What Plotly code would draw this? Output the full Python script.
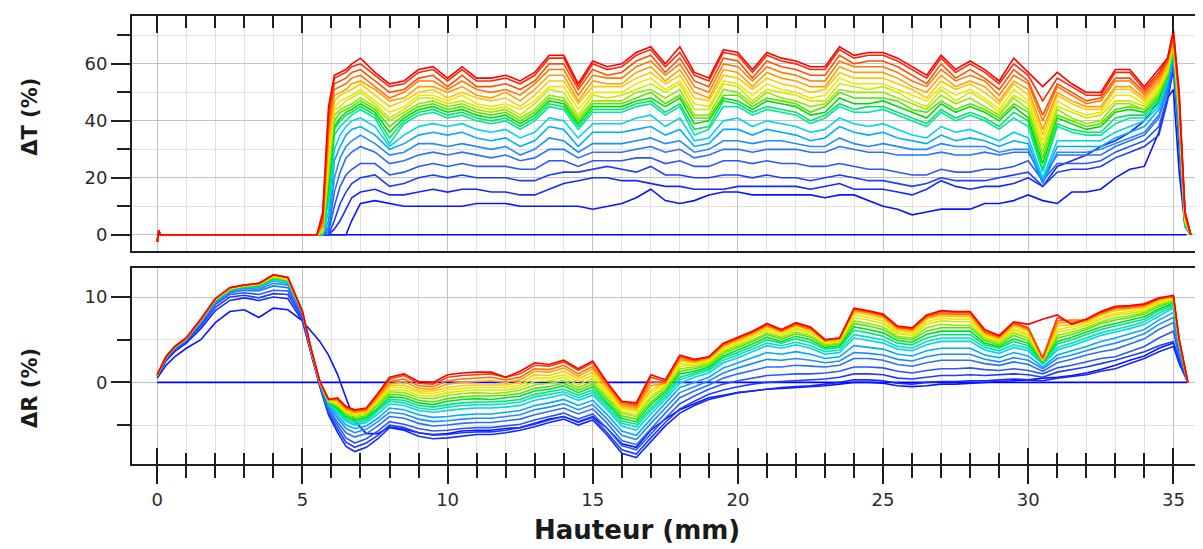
import plotly.graph_objects as go

# ---- Delta T (transmission) panel ----------------------------------------
# common start of every scan (small blip at the tube bottom, then flat)
t_x_start = [0.0, 0.05, 0.1, 5.5]
t_y_start = [-2.5, 1.5, 0.0, 0.0]

t_x = [5.7, 5.9, 6.1, 6.3, 6.5, 6.7, 7.0,
       7.5, 8.0, 8.5, 9.0, 9.5, 10.0, 10.5, 11.0, 11.5, 12.0,
       12.5, 13.0, 13.5, 14.0, 14.5, 15.0, 15.5, 16.0, 16.5, 17.0,
       17.5, 18.0, 18.5, 19.0, 19.5, 20.0, 20.5, 21.0, 21.5, 22.0,
       22.5, 23.0, 23.5, 24.0, 24.5, 25.0, 25.5, 26.0, 26.5, 27.0,
       27.5, 28.0, 28.5, 29.0, 29.5, 30.0, 30.5, 31.0, 31.5, 32.0,
       32.5, 33.0, 33.5, 34.0, 34.5, 34.8, 35.0, 35.2, 35.4, 35.6]

dT_01 = [0, 0, 0, 0, 0, 5, 11,
         12, 11, 10, 10, 10, 10, 10, 11, 11, 11,
         10, 10, 10, 10, 10, 9, 10, 11, 13, 16,
         12, 11, 12, 14, 15, 15, 14, 14, 14, 14,
         14, 13, 14, 14, 12, 10, 9, 7, 8, 9,
         9, 9, 11, 11, 12, 14, 12, 11, 15, 15,
         16, 20, 23, 24, 36, 48, 51, 22, 3, 0]
dT_02 = [0, 0, 2, 5, 9, 13, 15,
         16, 14, 14, 15, 16, 15, 16, 16, 15, 15,
         14, 14, 16, 18, 19, 20, 20, 19, 19, 18,
         17, 17, 16, 16, 16, 17, 17, 17, 17, 17,
         16, 17, 18, 16, 16, 16, 15, 14, 16, 19,
         17, 16, 17, 17, 18, 20, 17, 24, 26, 28,
         31, 33, 36, 40, 47, 57, 63, 30, 4, 0]
dT_03 = [0, 0, 5, 11, 15, 18, 20,
         21, 17, 18, 20, 21, 20, 21, 20, 20, 20,
         19, 19, 21, 22, 22, 23, 24, 23, 22, 24,
         21, 21, 20, 20, 21, 21, 20, 21, 20, 20,
         19, 20, 21, 20, 19, 19, 18, 17, 18, 20,
         19, 19, 19, 20, 21, 22, 17, 22, 23, 23,
         24, 27, 29, 31, 35, 47, 58, 33, 3, 0]
dT_04 = [0, 1, 10, 17, 21, 23, 25,
         25, 21, 22, 24, 25, 24, 25, 24, 24, 24,
         23, 23, 26, 26, 24, 26, 26, 26, 27, 27,
         25, 26, 24, 24, 26, 26, 25, 26, 25, 25,
         24, 24, 25, 24, 23, 23, 22, 21, 21, 23,
         22, 22, 23, 23, 24, 26, 19, 25, 25, 25,
         26, 29, 31, 33, 38, 49, 60, 34, 3, 0]
dT_05 = [0, 2, 15, 22, 27, 29, 31,
         29, 25, 26, 28, 29, 28, 29, 28, 27, 28,
         26, 27, 30, 30, 27, 29, 29, 29, 30, 31,
         29, 30, 27, 28, 30, 30, 29, 30, 30, 30,
         29, 29, 31, 30, 29, 29, 28, 28, 28, 29,
         28, 28, 29, 28, 29, 29, 20, 28, 28, 28,
         28, 31, 33, 35, 41, 51, 62, 35, 3, 0]
dT_06 = [0, 3, 20, 27, 31, 33, 35,
         32, 28, 29, 32, 32, 31, 32, 31, 30, 31,
         28, 30, 34, 33, 29, 32, 32, 32, 33, 34,
         32, 33, 29, 30, 33, 33, 32, 33, 33, 32,
         31, 31, 34, 32, 31, 32, 31, 30, 30, 32,
         31, 31, 31, 29, 30, 30, 18, 29, 29, 29,
         30, 32, 34, 36, 42, 52, 62, 36, 3, 0]
dT_07 = [0, 5, 26, 31, 35, 37, 38,
         35, 30, 32, 35, 36, 35, 36, 34, 33, 34,
         31, 33, 38, 37, 31, 36, 36, 36, 37, 38,
         35, 37, 31, 32, 37, 37, 35, 37, 36, 35,
         33, 34, 38, 36, 35, 36, 34, 33, 32, 35,
         33, 34, 33, 31, 33, 32, 19, 31, 31, 31,
         31, 34, 36, 38, 44, 53, 63, 37, 3, 0]
dT_08 = [0, 8, 30, 35, 38, 40, 41,
         38, 31, 35, 38, 39, 38, 39, 37, 36, 37,
         34, 36, 41, 40, 34, 39, 39, 39, 41, 42,
         38, 41, 33, 34, 40, 41, 38, 40, 39, 38,
         36, 37, 41, 39, 38, 39, 37, 35, 34, 38,
         36, 37, 35, 33, 36, 34, 20, 33, 33, 33,
         33, 36, 38, 40, 45, 54, 64, 38, 3, 0]
dT_09 = [0, 12, 35, 38, 40, 42, 44,
         41, 32, 39, 42, 43, 41, 42, 40, 39, 40,
         37, 40, 45, 44, 37, 43, 43, 43, 45, 46,
         42, 45, 35, 37, 45, 45, 42, 44, 43, 42,
         39, 41, 45, 43, 43, 44, 42, 40, 38, 43,
         40, 42, 40, 37, 41, 38, 22, 38, 36, 35,
         35, 39, 41, 41, 46, 55, 65, 40, 4, 0]
dT_10 = [0, 14, 37, 40, 42, 43, 45,
         42, 34, 40, 43, 44, 42, 43, 41, 40, 41,
         38, 41, 46, 45, 38, 44, 44, 44, 46, 47,
         43, 46, 37, 38, 47, 46, 43, 45, 44, 43,
         40, 42, 46, 44, 45, 45, 43, 41, 39, 44,
         41, 43, 41, 38, 43, 40, 23, 39, 37, 36,
         36, 41, 42, 42, 47, 55, 65, 40, 4, 0]
dT_11 = [1, 17, 38, 41, 43, 44, 46,
         43, 36, 41, 44, 45, 43, 44, 42, 41, 42,
         39, 42, 47, 46, 39, 45, 45, 45, 47, 48,
         45, 48, 39, 40, 48, 47, 44, 47, 46, 45,
         42, 43, 48, 46, 46, 47, 45, 43, 41, 46,
         43, 45, 43, 40, 45, 41, 25, 41, 39, 37,
         38, 43, 44, 43, 48, 56, 66, 41, 4, 0]
dT_12 = [1, 20, 40, 43, 44, 45, 47,
         44, 38, 42, 45, 46, 44, 45, 43, 42, 43,
         40, 43, 48, 47, 40, 46, 46, 46, 48, 50,
         46, 49, 41, 41, 49, 49, 45, 48, 47, 46,
         43, 45, 50, 48, 48, 48, 47, 44, 43, 47,
         44, 46, 44, 41, 46, 43, 27, 42, 40, 38,
         39, 44, 45, 44, 49, 56, 66, 41, 4, 0]
dT_13 = [1, 22, 42, 44, 45, 46, 48,
         45, 40, 43, 46, 47, 45, 46, 44, 43, 44,
         41, 44, 49, 48, 41, 47, 47, 47, 50, 51,
         48, 51, 42, 42, 51, 50, 46, 50, 48, 47,
         45, 46, 51, 50, 50, 50, 48, 46, 44, 49,
         46, 48, 45, 42, 48, 44, 29, 44, 41, 39,
         40, 46, 46, 44, 50, 57, 67, 42, 5, 0]
dT_14 = [1, 25, 44, 45, 47, 48, 50,
         46, 41, 44, 48, 48, 46, 47, 45, 44, 45,
         42, 46, 51, 50, 42, 49, 48, 49, 51, 53,
         50, 53, 44, 44, 53, 52, 47, 51, 50, 49,
         47, 47, 53, 52, 51, 52, 50, 47, 45, 51,
         47, 50, 47, 43, 49, 46, 31, 45, 43, 41,
         42, 47, 47, 45, 51, 57, 67, 43, 5, 0]
dT_15 = [2, 28, 45, 47, 48, 49, 51,
         47, 43, 45, 49, 49, 47, 49, 46, 45, 46,
         44, 47, 52, 52, 44, 50, 50, 50, 53, 55,
         51, 54, 46, 45, 54, 53, 49, 53, 51, 50,
         48, 49, 55, 53, 53, 53, 51, 49, 47, 52,
         49, 51, 48, 44, 51, 47, 33, 47, 44, 42,
         43, 49, 49, 46, 52, 58, 68, 44, 5, 0]
dT_16 = [2, 31, 47, 49, 50, 51, 53,
         49, 45, 47, 50, 51, 48, 50, 48, 47, 48,
         45, 49, 54, 54, 46, 52, 52, 52, 55, 57,
         53, 56, 48, 47, 56, 55, 51, 55, 53, 52,
         50, 51, 57, 55, 55, 55, 53, 51, 48, 54,
         51, 53, 50, 46, 53, 49, 35, 49, 46, 44,
         44, 51, 51, 47, 53, 59, 68, 45, 6, 0]
dT_17 = [3, 34, 49, 50, 51, 53, 54,
         51, 47, 48, 52, 52, 50, 52, 49, 48, 50,
         47, 51, 56, 56, 47, 54, 53, 53, 57, 59,
         54, 58, 50, 48, 58, 57, 52, 57, 55, 54,
         52, 52, 59, 57, 57, 57, 55, 52, 50, 56,
         52, 54, 52, 47, 54, 51, 37, 50, 47, 45,
         45, 52, 52, 48, 54, 60, 69, 46, 6, 0]
dT_18 = [4, 37, 51, 52, 53, 55, 56,
         52, 48, 50, 54, 54, 51, 54, 51, 50, 51,
         49, 53, 58, 58, 49, 56, 55, 55, 59, 61,
         56, 60, 52, 50, 60, 59, 54, 59, 57, 56,
         54, 54, 61, 59, 59, 59, 57, 54, 52, 58,
         54, 56, 54, 49, 56, 53, 40, 52, 49, 46,
         47, 54, 54, 49, 55, 61, 70, 47, 7, 0]
dT_19 = [5, 40, 53, 54, 55, 57, 58,
         54, 50, 51, 55, 56, 52, 56, 52, 52, 53,
         51, 54, 60, 60, 51, 58, 56, 57, 61, 63,
         57, 62, 54, 52, 62, 61, 55, 61, 59, 58,
         56, 56, 63, 60, 61, 61, 59, 56, 53, 60,
         55, 58, 55, 51, 58, 54, 42, 53, 50, 47,
         48, 55, 55, 50, 56, 61, 70, 48, 7, 0]
dT_20 = [6, 43, 55, 56, 57, 59, 60,
         56, 52, 53, 57, 58, 54, 58, 54, 54, 55,
         53, 56, 62, 62, 52, 60, 58, 59, 63, 65,
         59, 64, 56, 54, 64, 63, 57, 63, 61, 60,
         58, 58, 65, 62, 63, 63, 61, 58, 55, 62,
         57, 60, 57, 53, 60, 56, 47, 55, 52, 49,
         49, 57, 57, 51, 57, 62, 71, 49, 8, 0]
dT_21 = [8, 45, 56, 57, 58, 60, 62,
         57, 53, 54, 58, 59, 55, 59, 55, 55, 56,
         54, 57, 63, 63, 53, 61, 59, 60, 64, 66,
         60, 66, 57, 55, 65, 64, 58, 64, 62, 61,
         59, 59, 66, 63, 64, 64, 62, 59, 56, 63,
         58, 61, 58, 54, 62, 57, 52, 57, 53, 50,
         50, 58, 58, 52, 58, 62, 72, 50, 8, 0]

# reference scan (t = 0) : flat zero line
t_ref_x = [0.0, 35.45]
t_ref_y = [0, 0]

# ---- Delta R (backscattering) panel --------------------------------------
r_x = [0.0, 0.3, 0.6, 1.0, 1.5, 2.0, 2.5, 3.0, 3.5, 4.0, 4.5, 5.0,
       5.3, 5.6, 5.9, 6.2, 6.5, 6.8, 7.2, 7.6,
       8.0, 8.5, 9.0, 9.5, 10.0, 10.5, 11.0, 11.5, 12.0, 12.5,
       13.0, 13.5, 14.0, 14.5, 15.0, 15.5, 16.0, 16.5, 17.0, 17.5,
       18.0, 18.5, 19.0, 19.5, 20.0, 20.5, 21.0, 21.5, 22.0, 22.5,
       23.0, 23.5, 24.0, 24.5, 25.0, 25.5, 26.0, 26.5, 27.0, 27.5,
       28.0, 28.5, 29.0, 29.5, 30.0, 30.5, 31.0, 31.5, 32.0, 32.5,
       33.0, 33.5, 34.0, 34.5, 35.0, 35.2, 35.5]

dR_01 = [0.5, 2.0, 3.0, 4.0, 5.0, 7.0, 8.3, 8.5, 7.6, 8.7, 8.5, 7.2,
         6.0, 4.8, 3.2, 1.0, -1.8, -4.5, -6.0, -6.0,
         -5.2, -5.5, -5.9, -6.1, -6.0, -5.7, -5.6, -5.6, -5.4, -5.3,
         -4.8, -4.3, -4.0, -4.6, -4.0, -5.4, -7.2, -7.6, -5.6, -4.3,
         -3.2, -2.5, -1.8, -1.5, -1.2, -1.0, -0.8, -0.7, -0.6, -0.5,
         -0.4, -0.2, 0.0, 0.0, -0.1, -0.4, -0.5, -0.4, -0.2, -0.2,
         -0.1, 0.0, 0.1, 0.2, 0.3, 0.5, 0.6, 0.8, 1.1, 1.5,
         2.0, 2.6, 3.1, 4.0, 4.6, 2.5, 0.0]
dR_02 = [0.7, 2.5, 3.6, 4.6, 6.3, 8.4, 9.6, 9.9, 9.6, 10.0, 9.8, 7.2,
         3.3, -0.5, -3.8, -5.8, -7.5, -8.1, -7.6, -6.6,
         -5.3, -5.6, -6.3, -6.6, -6.5, -6.3, -6.1, -6.1, -5.9, -5.6,
         -5.2, -4.7, -4.3, -5.0, -4.4, -6.2, -8.3, -8.8, -6.9, -5.1,
         -3.6, -2.7, -2.0, -1.6, -1.2, -1.0, -0.8, -0.6, -0.5, -0.4,
         -0.2, 0.0, 0.3, 0.3, 0.2, -0.1, -0.2, 0.0, 0.1, 0.1,
         0.2, 0.2, 0.3, 0.4, 0.3, 0.2, 0.5, 0.7, 0.9, 1.3,
         1.6, 2.2, 2.8, 3.6, 4.2, 2.2, 0.0]
dR_03 = [0.8, 2.7, 3.8, 4.8, 6.6, 8.8, 10.0, 10.2, 9.9, 10.4, 10.3, 7.5,
         3.4, -0.4, -3.6, -5.4, -7.0, -7.6, -7.1, -6.2,
         -5.0, -5.3, -5.9, -6.2, -6.1, -5.9, -5.8, -5.8, -5.6, -5.3,
         -4.9, -4.4, -4.0, -4.7, -4.1, -5.9, -7.9, -8.4, -6.5, -4.7,
         -3.1, -2.2, -1.4, -0.9, -0.5, -0.2, 0.0, 0.1, 0.2, 0.3,
         0.4, 0.6, 1.0, 1.0, 0.9, 0.5, 0.4, 0.6, 0.8, 0.8,
         0.9, 0.8, 0.9, 1.0, 0.9, 0.6, 1.2, 1.5, 1.8, 2.2,
         2.6, 3.1, 3.6, 4.3, 4.8, 2.6, 0.0]
dR_04 = [0.8, 2.8, 3.9, 4.9, 6.8, 9.1, 10.3, 10.5, 10.3, 10.8, 10.7, 7.8,
         3.5, -0.3, -3.4, -5.0, -6.5, -7.1, -6.6, -5.7,
         -4.6, -4.9, -5.4, -5.7, -5.6, -5.4, -5.3, -5.3, -5.1, -4.9,
         -4.4, -4.0, -3.6, -4.3, -3.7, -5.4, -7.4, -7.9, -6.0, -4.2,
         -2.5, -1.6, -0.8, -0.2, 0.2, 0.5, 0.8, 0.9, 1.0, 1.0,
         1.1, 1.3, 1.8, 1.8, 1.7, 1.3, 1.1, 1.4, 1.6, 1.6,
         1.7, 1.5, 1.4, 1.6, 1.4, 1.0, 1.7, 2.0, 2.4, 2.8,
         3.0, 3.6, 4.2, 5.2, 6.0, 3.0, 0.0]
dR_05 = [0.8, 2.8, 4.0, 5.0, 7.0, 9.3, 10.5, 10.8, 10.7, 11.3, 11.1, 8.0,
         3.6, -0.2, -3.1, -4.6, -5.9, -6.4, -6.0, -5.1,
         -4.0, -4.2, -4.8, -5.1, -5.0, -4.8, -4.7, -4.7, -4.5, -4.3,
         -3.8, -3.4, -3.0, -3.7, -3.1, -4.8, -6.8, -7.3, -5.4, -3.6,
         -1.8, -1.0, -0.3, 0.5, 1.0, 1.4, 1.8, 1.8, 2.0, 1.9,
         1.8, 2.0, 2.8, 2.8, 2.6, 2.1, 1.9, 2.3, 2.6, 2.6,
         2.6, 2.2, 2.0, 2.4, 2.1, 1.3, 2.3, 2.7, 3.2, 3.6,
         3.9, 4.5, 5.1, 6.2, 7.0, 3.4, 0.0]
dR_06 = [0.8, 2.9, 4.0, 5.0, 7.1, 9.4, 10.6, 11.0, 10.9, 11.6, 11.4, 8.1,
         3.7, -0.1, -2.9, -4.2, -5.4, -5.9, -5.5, -4.6,
         -3.5, -3.7, -4.3, -4.6, -4.5, -4.3, -4.2, -4.2, -4.0, -3.8,
         -3.2, -2.9, -2.5, -3.2, -2.6, -4.3, -6.2, -6.7, -4.8, -3.0,
         -1.2, -0.5, 0.2, 1.1, 1.7, 2.2, 2.7, 2.6, 2.8, 2.6,
         2.3, 2.5, 3.5, 3.4, 3.2, 2.7, 2.5, 3.0, 3.3, 3.3,
         3.3, 2.7, 2.4, 2.9, 2.6, 1.6, 2.8, 3.2, 3.7, 4.2,
         4.6, 5.1, 5.7, 6.8, 7.6, 3.8, 0.0]
dR_07 = [0.8, 2.9, 4.1, 5.1, 7.2, 9.5, 10.7, 11.1, 11.1, 11.9, 11.6, 8.2,
         3.8, 0.0, -2.7, -3.8, -5.0, -5.4, -5.1, -4.2,
         -3.0, -3.2, -3.8, -4.1, -4.0, -3.8, -3.7, -3.7, -3.5, -3.3,
         -2.7, -2.4, -2.0, -2.7, -2.1, -3.8, -5.7, -6.2, -4.3, -2.5,
         -0.6, 0.0, 0.6, 1.7, 2.3, 2.9, 3.5, 3.3, 3.6, 3.3,
         2.8, 3.0, 4.3, 4.1, 3.9, 3.3, 3.1, 3.7, 4.0, 4.0,
         4.0, 3.2, 2.9, 3.5, 3.1, 1.8, 3.2, 3.7, 4.2, 4.8,
         5.2, 5.7, 6.2, 7.3, 8.2, 4.1, 0.0]
dR_08 = [0.8, 2.9, 4.1, 5.1, 7.2, 9.6, 10.8, 11.2, 11.2, 12.1, 11.8, 8.3,
         3.8, 0.0, -2.5, -3.5, -4.6, -5.0, -4.7, -3.7,
         -2.5, -2.7, -3.3, -3.5, -3.3, -3.1, -3.0, -3.0, -2.9, -2.7,
         -2.1, -1.8, -1.4, -2.1, -1.5, -3.2, -5.1, -5.6, -3.7, -2.0,
         -0.1, 0.6, 1.1, 2.3, 2.9, 3.6, 4.3, 4.0, 4.4, 4.0,
         3.3, 3.5, 5.2, 4.9, 4.6, 3.9, 3.7, 4.4, 4.8, 4.8,
         4.8, 3.8, 3.4, 4.1, 3.7, 2.1, 3.8, 4.3, 4.9, 5.5,
         5.9, 6.3, 6.8, 7.8, 8.7, 4.3, 0.0]
dR_09 = [0.8, 2.9, 4.1, 5.1, 7.2, 9.6, 10.8, 11.2, 11.3, 12.1, 11.8, 8.3,
         3.8, 0.0, -2.4, -3.3, -4.4, -4.8, -4.5, -3.4,
         -2.2, -2.4, -3.0, -3.2, -2.9, -2.7, -2.6, -2.6, -2.5, -2.3,
         -1.7, -1.4, -1.1, -1.8, -1.2, -2.9, -4.8, -5.2, -3.3, -1.7,
         0.3, 0.9, 1.4, 2.6, 3.2, 3.9, 4.6, 4.3, 4.7, 4.3,
         3.6, 3.8, 5.6, 5.3, 5.0, 4.2, 4.0, 4.8, 5.2, 5.2,
         5.2, 4.1, 3.7, 4.4, 4.0, 2.2, 4.1, 4.6, 5.2, 5.8,
         6.2, 6.6, 7.1, 8.1, 8.9, 4.4, 0.0]
dR_10 = [0.8, 2.9, 4.1, 5.1, 7.3, 9.6, 10.9, 11.2, 11.3, 12.2, 11.9, 8.3,
         3.8, 0.0, -2.4, -3.1, -4.2, -4.6, -4.3, -3.2,
         -2.0, -2.1, -2.7, -2.9, -2.6, -2.4, -2.3, -2.3, -2.2, -2.0,
         -1.4, -1.1, -0.8, -1.5, -0.9, -2.6, -4.5, -4.9, -3.0, -1.4,
         0.6, 1.1, 1.6, 2.9, 3.5, 4.2, 5.0, 4.6, 5.1, 4.7,
         3.9, 4.1, 6.1, 5.8, 5.4, 4.6, 4.4, 5.2, 5.6, 5.6,
         5.6, 4.4, 4.0, 4.8, 4.3, 2.3, 4.5, 5.0, 5.6, 6.2,
         6.6, 7.0, 7.4, 8.4, 9.1, 4.5, 0.0]
dR_11 = [0.8, 2.9, 4.1, 5.1, 7.3, 9.6, 10.9, 11.2, 11.3, 12.2, 11.9, 8.3,
         3.8, 0.0, -2.3, -3.0, -4.0, -4.4, -4.1, -3.0,
         -1.7, -1.8, -2.4, -2.6, -2.2, -2.0, -1.9, -2.0, -1.8, -1.6,
         -1.0, -0.8, -0.4, -1.2, -0.5, -2.3, -4.2, -4.6, -2.6, -1.1,
         1.0, 1.3, 1.8, 3.1, 3.8, 4.5, 5.3, 4.8, 5.4, 5.0,
         4.1, 4.3, 6.5, 6.2, 5.8, 4.9, 4.7, 5.6, 6.0, 6.0,
         6.0, 4.6, 4.2, 5.1, 4.6, 2.4, 4.8, 5.3, 5.9, 6.5,
         6.9, 7.3, 7.7, 8.6, 9.3, 4.6, 0.0]
dR_12 = [0.8, 3.0, 4.1, 5.1, 7.3, 9.7, 10.9, 11.3, 11.4, 12.3, 12.0, 8.3,
         3.8, 0.0, -2.3, -2.8, -3.8, -4.2, -3.9, -2.7,
         -1.4, -1.5, -2.1, -2.3, -1.9, -1.7, -1.6, -1.6, -1.5, -1.3,
         -0.7, -0.5, -0.1, -0.9, -0.2, -2.0, -3.9, -4.3, -2.3, -0.9,
         1.3, 1.6, 2.0, 3.4, 4.1, 4.8, 5.6, 5.1, 5.7, 5.3,
         4.3, 4.5, 6.9, 6.6, 6.2, 5.2, 5.0, 6.0, 6.4, 6.4,
         6.4, 4.9, 4.4, 5.5, 4.9, 2.5, 5.2, 5.6, 6.2, 6.9,
         7.3, 7.6, 8.0, 8.9, 9.5, 4.7, 0.0]
dR_13 = [0.8, 3.0, 4.1, 5.1, 7.3, 9.7, 10.9, 11.3, 11.4, 12.3, 12.0, 8.3,
         3.8, 0.0, -2.2, -2.6, -3.6, -4.0, -3.7, -2.5,
         -1.1, -1.2, -1.8, -1.9, -1.5, -1.3, -1.2, -1.3, -1.2, -0.9,
         -0.3, -0.1, 0.2, -0.6, 0.1, -1.7, -3.6, -4.0, -1.9, -0.6,
         1.6, 1.8, 2.2, 3.6, 4.3, 5.0, 5.8, 5.3, 5.9, 5.5,
         4.4, 4.6, 7.2, 6.9, 6.5, 5.4, 5.2, 6.4, 6.8, 6.7,
         6.7, 5.1, 4.6, 5.8, 5.2, 2.5, 5.5, 5.9, 6.4, 7.1,
         7.6, 7.8, 8.2, 9.1, 9.6, 4.7, 0.0]
dR_14 = [0.9, 3.0, 4.2, 5.2, 7.3, 9.7, 11.0, 11.3, 11.5, 12.4, 12.1, 8.3,
         3.8, 0.0, -2.2, -2.5, -3.5, -3.9, -3.6, -2.3,
         -0.9, -0.9, -1.5, -1.6, -1.2, -1.0, -0.9, -0.9, -0.9, -0.6,
         0.1, 0.2, 0.6, -0.3, 0.5, -1.4, -3.4, -3.7, -1.6, -0.4,
         1.9, 2.0, 2.4, 3.8, 4.5, 5.3, 6.1, 5.5, 6.2, 5.8,
         4.6, 4.8, 7.6, 7.3, 6.9, 5.7, 5.5, 6.8, 7.2, 7.1,
         7.1, 5.3, 4.8, 6.1, 5.5, 2.6, 5.9, 6.2, 6.7, 7.4,
         7.9, 8.1, 8.4, 9.3, 9.8, 4.8, 0.0]
dR_15 = [0.9, 3.0, 4.2, 5.2, 7.4, 9.8, 11.0, 11.4, 11.5, 12.5, 12.2, 8.3,
         3.8, 0.0, -2.1, -2.3, -3.3, -3.7, -3.5, -2.1,
         -0.6, -0.6, -1.2, -1.3, -0.9, -0.7, -0.6, -0.6, -0.6, -0.3,
         0.5, 0.5, 0.9, 0.1, 0.8, -1.1, -3.1, -3.4, -1.2, -0.2,
         2.2, 2.1, 2.5, 4.0, 4.7, 5.5, 6.3, 5.7, 6.4, 5.9,
         4.7, 4.9, 7.9, 7.6, 7.2, 5.9, 5.7, 7.1, 7.5, 7.4,
         7.4, 5.5, 5.0, 6.3, 5.7, 2.6, 6.2, 6.5, 6.9, 7.6,
         8.1, 8.3, 8.6, 9.4, 9.9, 4.8, 0.0]
dR_16 = [0.9, 3.0, 4.2, 5.2, 7.4, 9.8, 11.0, 11.4, 11.5, 12.5, 12.2, 8.3,
         3.9, 0.0, -2.1, -2.2, -3.2, -3.6, -3.4, -1.9,
         -0.4, -0.3, -1.0, -1.0, -0.6, -0.4, -0.3, -0.3, -0.3, 0.0,
         0.9, 0.8, 1.3, 0.4, 1.2, -0.8, -2.9, -3.2, -0.9, 0.0,
         2.5, 2.3, 2.7, 4.2, 4.9, 5.6, 6.5, 5.9, 6.6, 6.1,
         4.8, 5.0, 8.2, 7.9, 7.5, 6.1, 5.9, 7.4, 7.8, 7.7,
         7.7, 5.7, 5.1, 6.6, 6.0, 2.7, 6.6, 6.8, 7.1, 7.9,
         8.4, 8.6, 8.8, 9.6, 10.0, 4.9, 0.0]
dR_17 = [0.9, 3.0, 4.2, 5.2, 7.4, 9.8, 11.1, 11.4, 11.6, 12.6, 12.3, 8.3,
         3.9, 0.0, -2.0, -2.1, -3.1, -3.5, -3.3, -1.8,
         -0.2, 0.1, -0.7, -0.8, -0.2, 0.0, 0.1, 0.2, 0.0, 0.3,
         1.3, 1.2, 1.7, 0.7, 1.6, -0.6, -2.7, -3.0, -0.4, -0.1,
         2.7, 2.4, 2.8, 4.3, 5.0, 5.7, 6.6, 6.0, 6.7, 6.2,
         4.9, 5.1, 8.4, 8.1, 7.7, 6.3, 6.1, 7.6, 8.0, 7.9,
         7.9, 5.8, 5.2, 6.8, 6.2, 2.7, 6.9, 7.1, 7.2, 8.0,
         8.6, 8.7, 8.9, 9.7, 10.1, 5.0, 0.0]
dR_18 = [0.9, 3.0, 4.2, 5.2, 7.4, 9.8, 11.1, 11.4, 11.6, 12.6, 12.3, 8.3,
         3.9, 0.1, -2.0, -2.0, -3.0, -3.4, -3.2, -1.6,
         0.1, 0.4, -0.4, -0.5, 0.2, 0.4, 0.5, 0.6, 0.3, 0.6,
         1.6, 1.5, 2.0, 1.0, 1.9, -0.3, -2.5, -2.8, 0.1, -0.1,
         2.9, 2.5, 2.9, 4.4, 5.1, 5.8, 6.7, 6.0, 6.8, 6.3,
         4.9, 5.1, 8.5, 8.2, 7.8, 6.4, 6.2, 7.7, 8.1, 8.0,
         8.0, 5.9, 5.3, 6.9, 6.3, 2.8, 7.2, 7.3, 7.3, 8.1,
         8.7, 8.8, 9.0, 9.8, 10.1, 5.0, 0.0]
dR_19 = [0.9, 3.0, 4.2, 5.2, 7.4, 9.8, 11.1, 11.4, 11.6, 12.6, 12.3, 8.3,
         3.9, 0.1, -2.0, -1.9, -2.9, -3.3, -3.1, -1.4,
         0.4, 0.8, -0.1, -0.2, 0.6, 0.8, 0.9, 1.0, 0.6, 1.0,
         2.0, 1.9, 2.4, 1.4, 2.3, -0.1, -2.3, -2.6, 0.6, 0.1,
         3.1, 2.6, 3.0, 4.5, 5.2, 5.9, 6.8, 6.1, 6.9, 6.4,
         5.0, 5.2, 8.6, 8.3, 7.9, 6.5, 6.3, 7.8, 8.3, 8.2,
         8.2, 6.0, 5.4, 7.0, 6.4, 2.9, 7.6, 6.9, 7.4, 8.2,
         8.8, 8.9, 9.1, 9.8, 10.1, 5.0, 0.0]
dR_20 = [0.9, 3.0, 4.2, 5.2, 7.4, 9.8, 11.1, 11.4, 11.6, 12.6, 12.3, 8.3,
         3.9, 0.1, -2.0, -1.8, -2.8, -3.2, -3.0, -1.3,
         0.6, 1.0, 0.1, 0.0, 0.9, 1.1, 1.2, 1.2, 0.6, 1.3,
         2.3, 2.1, 2.6, 1.6, 2.5, 0.0, -2.2, -2.4, 0.9, 0.3,
         3.2, 2.7, 3.0, 4.6, 5.3, 6.0, 6.9, 6.2, 7.0, 6.5,
         5.0, 5.2, 8.7, 8.4, 8.0, 6.6, 6.4, 7.9, 8.4, 8.3,
         8.3, 6.2, 5.5, 7.1, 6.8, 7.4, 7.9, 6.8, 7.4, 8.3,
         8.9, 9.0, 9.2, 9.9, 10.2, 5.0, 0.0]

r_ref_x = [0.0, 35.5]
r_ref_y = [0, 0]

dT_scans = [dT_01, dT_02, dT_03, dT_04, dT_05, dT_06, dT_07,
            dT_08, dT_09, dT_10, dT_11, dT_12, dT_13, dT_14,
            dT_15, dT_16, dT_17, dT_18, dT_19, dT_20, dT_21]
dR_scans = [dR_01, dR_02, dR_03, dR_04, dR_05, dR_06, dR_07,
            dR_08, dR_09, dR_10, dR_11, dR_12, dR_13, dR_14,
            dR_15, dR_16, dR_17, dR_18, dR_19, dR_20]

# scan colours, first (blue) to last (red)
t_colors = ["#0a14ff", "#1428ff", "#1e3cff", "#2856ff", "#2a70ff", "#1e8cff",
            "#00aaff", "#00d2f0", "#00e6a0", "#00e660", "#00dc00", "#50e600",
            "#96e600", "#c8eb00", "#f0e600", "#ffc800", "#ffa000", "#ff7800",
            "#ff5000", "#ff2800", "#ff0000"]
r_colors = ["#0a14ff", "#1428ff", "#1e3cff", "#2856ff", "#2a70ff", "#1e8cff",
            "#00aaff", "#00d2f0", "#00e6b4", "#00e678", "#00dc28", "#50e600",
            "#96e600", "#d2eb00", "#f0e600", "#ffc800", "#ffa000", "#ff7000",
            "#ff4000", "#ff0000"]
ref_color = "#0000ff"
lw = 1.6

fig = go.Figure()

fig.add_trace(go.Scatter(x=t_ref_x, y=t_ref_y, mode="lines",
                         line=dict(color=ref_color, width=lw),
                         xaxis="x", yaxis="y"))
for vals, col in zip(dT_scans, t_colors):
    fig.add_trace(go.Scatter(x=t_x_start + t_x, y=t_y_start + vals, mode="lines",
                             line=dict(color=col, width=lw),
                             xaxis="x", yaxis="y"))

fig.add_trace(go.Scatter(x=r_ref_x, y=r_ref_y, mode="lines",
                         line=dict(color=ref_color, width=lw),
                         xaxis="x2", yaxis="y2"))
for vals, col in zip(dR_scans, r_colors):
    fig.add_trace(go.Scatter(x=r_x, y=vals, mode="lines",
                             line=dict(color=col, width=lw),
                             xaxis="x2", yaxis="y2"))

# empty trace so the overlay axis (inner ticks of the bottom panel) is drawn
fig.add_trace(go.Scatter(x=[], y=[], xaxis="x3", yaxis="y2", showlegend=False))

xr = [-0.87, 36.02]
axis_col = "#1e1e1e"
grid_major = "#c2c2c2"
grid_minor = "#e0e0e0"
tick_font = dict(family="DejaVu Sans", size=18, color="#2b2b2b")

# the page body has an 8px margin: figure is shrunk so the plot area lands
# on the same pixels as the reference
fig.update_layout(
    width=1195, height=541,
    margin=dict(l=124, r=0, t=8, b=85),
    plot_bgcolor="white", paper_bgcolor="white",
    showlegend=False,
    xaxis=dict(domain=[0, 1], anchor="y", range=xr, side="top",
               showticklabels=False, ticks="inside", ticklen=17, tickwidth=2,
               tickcolor=axis_col, tick0=0, dtick=5,
               showgrid=True, gridcolor=grid_major, gridwidth=1,
               minor=dict(dtick=1, ticks="inside", ticklen=12, tickwidth=1.5,
                          tickcolor=axis_col, showgrid=True, gridcolor=grid_minor),
               showline=True, linecolor=axis_col, linewidth=2, mirror=True,
               zeroline=False),
    yaxis=dict(domain=[0.476, 1], anchor="x", range=[-5.6, 76.8],
               tick0=0, dtick=20, ticks="outside", ticklen=19, tickwidth=2,
               tickcolor=axis_col, tickfont=tick_font,
               showgrid=True, gridcolor=grid_major,
               minor=dict(dtick=10, ticks="outside", ticklen=13, tickwidth=2,
                          tickcolor=axis_col, showgrid=True, gridcolor=grid_minor),
               showline=True, linecolor=axis_col, linewidth=2, zeroline=False),
    xaxis2=dict(domain=[0, 1], anchor="y2", range=xr, side="bottom",
                ticks="outside", ticklen=18, tickwidth=2, tickcolor=axis_col,
                tick0=0, dtick=5, tickfont=tick_font,
                showgrid=True, gridcolor=grid_major,
                minor=dict(dtick=1, ticks="outside", ticklen=12, tickwidth=1.5,
                           tickcolor=axis_col, showgrid=True, gridcolor=grid_minor),
                showline=True, linecolor=axis_col, linewidth=2, mirror=True,
                zeroline=False),
    xaxis3=dict(overlaying="x2", anchor="y2", range=xr, side="bottom",
                showticklabels=False, ticks="inside", ticklen=16, tickwidth=2,
                tickcolor=axis_col, tick0=0, dtick=5, showgrid=False,
                minor=dict(dtick=1, ticks="inside", ticklen=11, tickwidth=1.5,
                           tickcolor=axis_col, showgrid=False),
                showline=False, zeroline=False),
    yaxis2=dict(domain=[0, 0.4375], anchor="x2", range=[-9.56, 13.4],
                tick0=0, dtick=10, ticks="outside", ticklen=19, tickwidth=2,
                tickcolor=axis_col, tickfont=tick_font,
                showgrid=True, gridcolor=grid_major,
                minor=dict(dtick=5, ticks="outside", ticklen=13, tickwidth=2,
                           tickcolor=axis_col, showgrid=True, gridcolor=grid_minor),
                showline=True, linecolor=axis_col, linewidth=2, zeroline=False),
)

title_font = dict(family="DejaVu Sans", size=21, color="#1a1a1a")
fig.add_annotation(text="<b>ΔT (%)</b>", xref="paper", yref="paper",
                   x=-0.0952, y=0.775, textangle=-90, showarrow=False,
                   xanchor="center", yanchor="middle", font=title_font)
fig.add_annotation(text="<b>ΔR (%)</b>", xref="paper", yref="paper",
                   x=-0.0952, y=0.170, textangle=-90, showarrow=False,
                   xanchor="center", yanchor="middle", font=title_font)
fig.add_annotation(text="<b>Hauteur (mm)</b>", xref="paper", yref="paper",
                   x=0.4715, y=-0.1467, showarrow=False,
                   xanchor="center", yanchor="middle",
                   font=dict(family="DejaVu Sans", size=26, color="#1a1a1a"))

fig.write_html("out.html")
